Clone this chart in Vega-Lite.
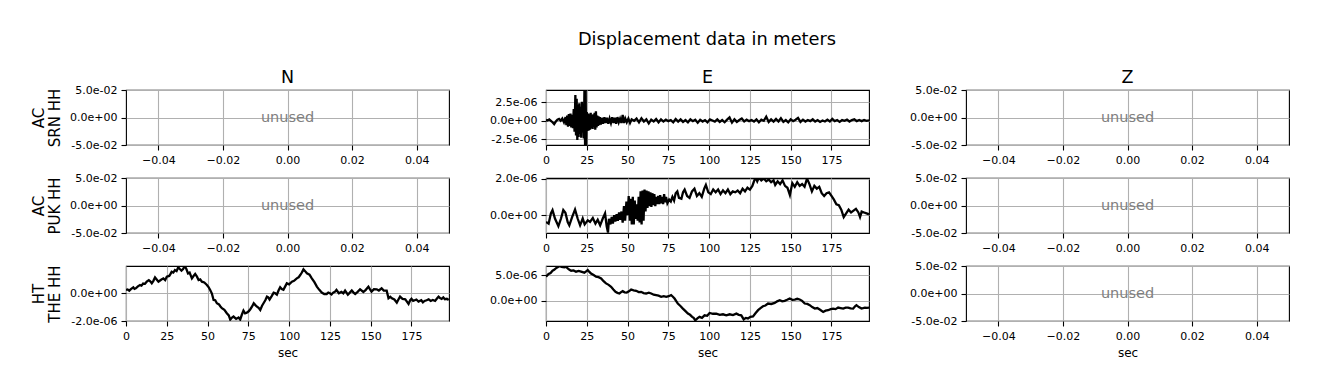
{
  "$schema": "https://vega.github.io/schema/vega-lite/v6.json",
  "autosize": {"type": "none"},
  "padding": {"left": 126, "top": 90, "right": 1192, "bottom": 299},
  "title": {"text": "Displacement data in meters", "anchor": "middle", "frame": "group", "dx": 581, "fontSize": 17.8, "fontWeight": "normal", "color": "black", "offset": 19},
  "config": {
    "font": "DejaVu Sans",
    "view": {"stroke": "black", "strokeWidth": 1.1},
    "axis": {"domain": false, "grid": true, "gridColor": "#b0b0b0", "gridWidth": 1.1, "gridOpacity": 1, "tickColor": "black", "tickSize": 5, "tickWidth": 1.1, "labelFontSize": 11, "labelColor": "black", "labelPadding": 4, "labelFlush": false, "labelOverlap": false, "titleFontWeight": "normal", "titleColor": "black"},
    "axisX": {"titleFontSize": 12, "titlePadding": 6},
    "axisY": {"titleFontSize": 15, "titlePadding": 7, "titleLineHeight": 16.5},
    "title": {"fontSize": 17.5, "fontWeight": "normal", "color": "black"}
  },
  "datasets": {
    "unused": [{"t": 0, "v": 0, "label": "unused"}],
    "srnE": [
      {"t":0,"v":0.14e-6},{"t":1,"v":0.05e-6},{"t":2,"v":0.2e-6},{"t":3,"v":0.0e-6},{"t":4,"v":-0.2e-6},{"t":5,"v":-0.45e-6},{"t":6,"v":-0.1e-6},{"t":7,"v":0.15e-6},{"t":8,"v":0.25e-6},{"t":9,"v":0.0e-6},{"t":10,"v":0.3e-6},{"t":11,"v":-0.2e-6},
      {"t":12,"v":0.5e-6},{"t":12.5,"v":-0.6e-6},{"t":13,"v":0.7e-6},{"t":13.5,"v":-0.8e-6},{"t":14,"v":0.9e-6},{"t":14.5,"v":-0.7e-6},{"t":15,"v":1.0e-6},{"t":15.5,"v":-0.9e-6},{"t":16,"v":0.8e-6},{"t":16.5,"v":-1.0e-6},{"t":17,"v":1.6e-6},{"t":17.5,"v":-1.5e-6},
      {"t":18,"v":3.5e-6},{"t":18.4,"v":-2.0e-6},{"t":18.8,"v":3.0e-6},{"t":19.2,"v":-2.6e-6},{"t":19.6,"v":2.2e-6},{"t":20,"v":-2.2e-6},{"t":20.4,"v":2.4e-6},{"t":20.8,"v":-1.8e-6},{"t":21.2,"v":1.9e-6},{"t":21.6,"v":-2.3e-6},{"t":22,"v":2.6e-6},{"t":22.4,"v":-1.6e-6},{"t":22.8,"v":1.8e-6},{"t":23.2,"v":-2.4e-6},
      {"t":23.6,"v":5.0e-6},{"t":24,"v":-4.5e-6},{"t":24.3,"v":5.0e-6},{"t":24.6,"v":-4.5e-6},
      {"t":25,"v":1.2e-6},{"t":25.4,"v":-1.4e-6},{"t":25.8,"v":1.0e-6},{"t":26.2,"v":-1.3e-6},{"t":26.6,"v":0.9e-6},{"t":27,"v":-1.2e-6},{"t":27.4,"v":1.1e-6},{"t":27.8,"v":-1.0e-6},{"t":28.2,"v":0.8e-6},{"t":28.6,"v":-1.1e-6},{"t":29,"v":0.9e-6},{"t":29.4,"v":-0.8e-6},{"t":29.8,"v":1.1e-6},{"t":30.2,"v":-1.2e-6},{"t":30.6,"v":1.3e-6},{"t":31,"v":-0.9e-6},{"t":31.4,"v":0.7e-6},{"t":31.8,"v":-0.7e-6},{"t":32.2,"v":0.6e-6},{"t":32.6,"v":-0.6e-6},{"t":33,"v":0.5e-6},{"t":33.6,"v":-0.5e-6},{"t":34.2,"v":0.4e-6},
      {"t":35,"v":-0.4e-6},{"t":35.8,"v":0.5e-6},{"t":36.6,"v":-0.3e-6},{"t":37.4,"v":0.4e-6},{"t":38.2,"v":-0.4e-6},{"t":39,"v":0.3e-6},{"t":39.8,"v":-0.3e-6},{"t":40.6,"v":0.5e-6},{"t":41.4,"v":-0.3e-6},{"t":42.2,"v":0.4e-6},{"t":43,"v":-0.4e-6},{"t":43.8,"v":0.5e-6},{"t":44.6,"v":-0.2e-6},{"t":45.4,"v":0.3e-6},{"t":46.2,"v":-0.3e-6},{"t":47,"v":0.8e-6},{"t":47.8,"v":-0.3e-6},{"t":48.6,"v":0.3e-6},{"t":49.5,"v":-0.2e-6},
      {"t":50.5,"v":0.3e-6},{"t":51.5,"v":-0.3e-6},{"t":52.5,"v":0.2e-6},{"t":54,"v":0.0e-6},{"t":55.5,"v":0.3e-6},{"t":57,"v":-0.2e-6},{"t":58.5,"v":0.35e-6},{"t":60,"v":-0.1e-6},{"t":61.5,"v":0.2e-6},{"t":63,"v":-0.35e-6},{"t":64.5,"v":0.15e-6},{"t":66,"v":-0.1e-6},{"t":67.5,"v":0.25e-6},{"t":69,"v":-0.2e-6},{"t":70.5,"v":0.2e-6},{"t":72,"v":-0.1e-6},{"t":73.5,"v":0.15e-6},{"t":75,"v":-0.05e-6},{"t":76.5,"v":0.1e-6},{"t":78,"v":-0.2e-6},{"t":79.5,"v":0.25e-6},
      {"t":81,"v":-0.1e-6},{"t":82.5,"v":0.2e-6},{"t":84,"v":-0.15e-6},{"t":85.5,"v":0.1e-6},{"t":87,"v":-0.2e-6},{"t":88.5,"v":0.2e-6},{"t":90,"v":-0.05e-6},{"t":91.5,"v":0.15e-6},{"t":93,"v":-0.25e-6},{"t":94.5,"v":0.15e-6},{"t":96,"v":-0.1e-6},{"t":97.5,"v":0.1e-6},{"t":99,"v":-0.2e-6},{"t":100.5,"v":0.2e-6},{"t":102,"v":0.05e-6},{"t":103.5,"v":-0.1e-6},{"t":105,"v":0.2e-6},{"t":106.5,"v":-0.15e-6},{"t":108,"v":0.1e-6},{"t":109.5,"v":-0.2e-6},
      {"t":111,"v":0.15e-6},{"t":112.5,"v":0.45e-6},{"t":114,"v":-0.25e-6},{"t":115.5,"v":0.2e-6},{"t":117,"v":-0.15e-6},{"t":118.5,"v":0.1e-6},{"t":120,"v":0.3e-6},{"t":121.5,"v":-0.1e-6},{"t":123,"v":0.15e-6},{"t":124.5,"v":-0.05e-6},{"t":126,"v":0.1e-6},{"t":127.5,"v":-0.1e-6},{"t":129,"v":0.2e-6},{"t":130.5,"v":-0.2e-6},{"t":132,"v":0.15e-6},{"t":133.5,"v":0.0e-6},{"t":135,"v":0.55e-6},{"t":136.5,"v":-0.15e-6},{"t":138,"v":0.2e-6},{"t":139.5,"v":-0.1e-6},
      {"t":141,"v":0.25e-6},{"t":142.5,"v":-0.1e-6},{"t":144,"v":0.35e-6},{"t":145.5,"v":-0.15e-6},{"t":147,"v":0.1e-6},{"t":148.5,"v":-0.2e-6},{"t":150,"v":0.2e-6},{"t":151.5,"v":-0.05e-6},{"t":153,"v":0.15e-6},{"t":154.5,"v":0.4e-6},{"t":156,"v":-0.15e-6},{"t":157.5,"v":0.15e-6},{"t":159,"v":-0.1e-6},{"t":160.5,"v":0.1e-6},{"t":162,"v":-0.05e-6},{"t":163.5,"v":0.2e-6},{"t":165,"v":-0.1e-6},{"t":166.5,"v":0.1e-6},{"t":168,"v":-0.15e-6},{"t":169.5,"v":0.05e-6},
      {"t":171,"v":-0.1e-6},{"t":172.5,"v":0.15e-6},{"t":174,"v":-0.1e-6},{"t":175.5,"v":0.25e-6},{"t":177,"v":-0.05e-6},{"t":178.5,"v":0.1e-6},{"t":180,"v":-0.15e-6},{"t":181.5,"v":0.1e-6},{"t":183,"v":0.0e-6},{"t":184.5,"v":0.15e-6},{"t":186,"v":-0.1e-6},{"t":187.5,"v":0.1e-6},{"t":189,"v":0.2e-6},{"t":190.5,"v":-0.05e-6},{"t":192,"v":0.1e-6},{"t":193.5,"v":-0.05e-6},{"t":195,"v":0.1e-6},{"t":196.5,"v":0.0e-6},{"t":198,"v":0.05e-6}
    ],
    "pukE": [
      {"t":0,"v":-0.37e-6},{"t":1.6,"v":-0.46e-6},{"t":3,"v":0.1e-6},{"t":4,"v":0.28e-6},{"t":5.5,"v":-0.18e-6},{"t":7.6,"v":-0.6e-6},{"t":9.2,"v":-0.18e-6},{"t":10.6,"v":0.28e-6},{"t":11.9,"v":0.13e-6},{"t":13.3,"v":-0.37e-6},{"t":14.3,"v":-0.55e-6},{"t":16,"v":-0.1e-6},{"t":17.8,"v":0.31e-6},{"t":19.4,"v":-0.18e-6},{"t":20.9,"v":-0.55e-6},{"t":22.5,"v":-0.18e-6},{"t":23.7,"v":-0.5e-6},{"t":25.6,"v":-0.28e-6},{"t":27,"v":-0.37e-6},{"t":28.7,"v":-0.15e-6},{"t":30.3,"v":-0.46e-6},{"t":31.7,"v":-0.25e-6},{"t":33.2,"v":-0.55e-6},{"t":34.8,"v":-0.18e-6},{"t":36.2,"v":0.1e-6},{"t":37.2,"v":-0.6e-6},{"t":38,"v":-0.95e-6},{"t":38.6,"v":-0.2e-6},{"t":39.5,"v":-0.5e-6},
      {"t":40.3,"v":-0.1e-6},{"t":41,"v":-0.45e-6},{"t":41.8,"v":0.0e-6},{"t":42.5,"v":-0.35e-6},{"t":43.3,"v":0.05e-6},{"t":44,"v":-0.3e-6},{"t":44.8,"v":0.15e-6},{"t":45.5,"v":-0.25e-6},{"t":46.3,"v":0.2e-6},{"t":47,"v":-0.4e-6},{"t":47.8,"v":0.5e-6},{"t":48.5,"v":-0.3e-6},{"t":49.3,"v":0.75e-6},{"t":50,"v":0.0e-6},{"t":50.7,"v":1.05e-6},{"t":51.4,"v":-0.3e-6},{"t":52,"v":0.9e-6},{"t":52.6,"v":-0.5e-6},{"t":53.2,"v":1.0e-6},{"t":53.8,"v":-0.5e-6},{"t":54.4,"v":0.8e-6},{"t":55,"v":-0.2e-6},{"t":55.6,"v":0.6e-6},{"t":56.2,"v":-0.3e-6},{"t":56.8,"v":1.0e-6},{"t":57.4,"v":-0.4e-6},{"t":58,"v":1.3e-6},{"t":58.6,"v":-0.5e-6},{"t":59.2,"v":1.35e-6},{"t":59.8,"v":-0.3e-6},
      {"t":60.4,"v":1.4e-6},{"t":61,"v":0.2e-6},{"t":61.6,"v":1.35e-6},{"t":62.2,"v":0.4e-6},{"t":62.8,"v":1.3e-6},{"t":63.4,"v":0.5e-6},{"t":64,"v":1.25e-6},{"t":64.6,"v":0.45e-6},{"t":65.2,"v":1.2e-6},{"t":65.8,"v":0.55e-6},{"t":66.4,"v":1.15e-6},{"t":67,"v":0.5e-6},{"t":67.6,"v":1.0e-6},{"t":68.2,"v":0.6e-6},{"t":68.8,"v":1.05e-6},{"t":69.4,"v":0.6e-6},{"t":70,"v":1.1e-6},{"t":70.6,"v":0.65e-6},{"t":71.2,"v":1.0e-6},{"t":71.8,"v":0.6e-6},{"t":72.4,"v":1.15e-6},{"t":73,"v":0.7e-6},{"t":73.6,"v":1.0e-6},{"t":74.4,"v":0.65e-6},
      {"t":75.5,"v":0.85e-6},{"t":76.5,"v":0.75e-6},{"t":77.5,"v":1.0e-6},{"t":78.5,"v":0.8e-6},{"t":79.5,"v":1.2e-6},{"t":80.5,"v":1.3e-6},{"t":81.5,"v":0.95e-6},{"t":83,"v":0.9e-6},{"t":84,"v":1.25e-6},{"t":85,"v":1.4e-6},{"t":86.5,"v":1.05e-6},{"t":88,"v":0.95e-6},{"t":89.5,"v":1.3e-6},{"t":91,"v":1.45e-6},{"t":92.5,"v":1.05e-6},{"t":94,"v":1.2e-6},{"t":95.5,"v":1.0e-6},{"t":97,"v":1.45e-6},{"t":98,"v":1.65e-6},{"t":99.5,"v":1.25e-6},
      {"t":101,"v":1.15e-6},{"t":102.5,"v":1.4e-6},{"t":104,"v":1.25e-6},{"t":105.5,"v":1.4e-6},{"t":107,"v":1.15e-6},{"t":108.5,"v":1.35e-6},{"t":110,"v":1.2e-6},{"t":111.5,"v":1.4e-6},{"t":113,"v":1.15e-6},{"t":114.5,"v":1.3e-6},{"t":116,"v":1.25e-6},{"t":117.5,"v":1.35e-6},{"t":119,"v":1.2e-6},{"t":120.5,"v":1.45e-6},{"t":122,"v":1.3e-6},{"t":123.5,"v":1.5e-6},{"t":125,"v":1.4e-6},{"t":126.5,"v":1.6e-6},{"t":127.5,"v":1.85e-6},{"t":128.5,"v":2.05e-6},{"t":129.5,"v":1.85e-6},
      {"t":130.5,"v":2.05e-6},{"t":132,"v":1.9e-6},{"t":133.5,"v":2.0e-6},{"t":135,"v":1.85e-6},{"t":136.5,"v":1.95e-6},{"t":138,"v":1.8e-6},{"t":139.5,"v":1.9e-6},{"t":140.5,"v":1.65e-6},{"t":142,"v":1.85e-6},{"t":143.5,"v":1.7e-6},{"t":145,"v":1.9e-6},{"t":146.5,"v":1.6e-6},{"t":148,"v":1.5e-6},{"t":149.5,"v":1.1e-6},{"t":151,"v":1.75e-6},{"t":152.5,"v":1.55e-6},{"t":154,"v":1.8e-6},{"t":155.5,"v":1.6e-6},{"t":157,"v":1.7e-6},{"t":158.5,"v":1.55e-6},{"t":160,"v":2.0e-6},
      {"t":161.5,"v":1.7e-6},{"t":163,"v":1.3e-6},{"t":164.5,"v":1.6e-6},{"t":166,"v":1.45e-6},{"t":167.5,"v":1.55e-6},{"t":169,"v":1.2e-6},{"t":170.5,"v":1.05e-6},{"t":172,"v":1.2e-6},{"t":173.5,"v":1.25e-6},{"t":175,"v":1.05e-6},{"t":176.5,"v":0.85e-6},{"t":178,"v":0.6e-6},{"t":179.5,"v":0.55e-6},{"t":181,"v":0.3e-6},{"t":182.5,"v":-0.1e-6},{"t":184,"v":0.1e-6},{"t":185.5,"v":0.3e-6},{"t":187,"v":0.15e-6},{"t":188.5,"v":0.25e-6},{"t":190,"v":0.35e-6},{"t":191.5,"v":0.15e-6},{"t":192.5,"v":-0.1e-6},{"t":193.5,"v":0.2e-6},{"t":195,"v":0.15e-6},{"t":196.5,"v":0.1e-6},{"t":198,"v":0.05e-6}
    ],
    "theN": [
      {"t":0,"v":0.24e-6},{"t":1,"v":0.28e-6},{"t":2,"v":0.19e-6},{"t":3,"v":0.3e-6},{"t":4.5,"v":0.43e-6},{"t":5.2,"v":0.32e-6},{"t":6,"v":0.36e-6},{"t":7.3,"v":0.5e-6},{"t":8.6,"v":0.6e-6},{"t":9.5,"v":0.55e-6},{"t":10.5,"v":0.7e-6},{"t":11.6,"v":0.68e-6},{"t":12.7,"v":0.84e-6},{"t":14,"v":0.95e-6},{"t":15,"v":0.85e-6},{"t":15.8,"v":0.72e-6},{"t":16.8,"v":0.9e-6},{"t":17.8,"v":1.15e-6},{"t":18.8,"v":1.0e-6},{"t":19.9,"v":0.84e-6},{"t":21.5,"v":0.98e-6},{"t":22.9,"v":1.08e-6},{"t":24,"v":0.95e-6},{"t":25,"v":1.2e-6},{"t":26.5,"v":1.25e-6},{"t":27.3,"v":1.4e-6},{"t":28,"v":1.56e-6},{"t":29,"v":1.5e-6},{"t":30,"v":1.68e-6},{"t":31,"v":1.6e-6},{"t":32,"v":1.88e-6},{"t":33,"v":1.75e-6},{"t":34,"v":1.64e-6},{"t":35,"v":1.75e-6},{"t":36,"v":1.97e-6},{"t":37,"v":1.75e-6},{"t":38,"v":1.44e-6},{"t":39,"v":1.5e-6},
      {"t":40.4,"v":1.08e-6},{"t":41.4,"v":1.25e-6},{"t":42.4,"v":1.4e-6},{"t":43.5,"v":1.2e-6},{"t":44.5,"v":0.96e-6},{"t":45.5,"v":1.0e-6},{"t":46.5,"v":0.84e-6},{"t":48,"v":0.78e-6},{"t":49.6,"v":0.6e-6},{"t":50.6,"v":0.45e-6},{"t":51.6,"v":0.24e-6},{"t":52.6,"v":0.0e-6},{"t":53.7,"v":-0.48e-6},{"t":54.7,"v":-0.5e-6},{"t":55.7,"v":-0.72e-6},{"t":57,"v":-0.8e-6},{"t":57.9,"v":-0.95e-6},{"t":58.8,"v":-1.08e-6},{"t":60.3,"v":-1.2e-6},{"t":61.8,"v":-1.44e-6},{"t":63,"v":-1.6e-6},{"t":63.9,"v":-1.9e-6},{"t":65,"v":-1.75e-6},{"t":65.9,"v":-1.68e-6},{"t":67.5,"v":-1.85e-6},{"t":69,"v":-1.75e-6},{"t":70,"v":-1.9e-6},{"t":71,"v":-1.55e-6},{"t":72,"v":-1.25e-6},{"t":73,"v":-1.45e-6},{"t":74,"v":-1.4e-6},{"t":75.2,"v":-1.3e-6},{"t":76.2,"v":-1.15e-6},{"t":77.3,"v":-0.95e-6},{"t":78.3,"v":-0.72e-6},{"t":79.3,"v":-0.85e-6},
      {"t":80.3,"v":-0.96e-6},{"t":81.3,"v":-1.05e-6},{"t":82.3,"v":-1.2e-6},{"t":83.4,"v":-0.9e-6},{"t":84.4,"v":-0.7e-6},{"t":85.4,"v":-0.5e-6},{"t":86.4,"v":-0.24e-6},{"t":87.2,"v":-0.3e-6},{"t":88,"v":-0.45e-6},{"t":89.3,"v":-0.2e-6},{"t":90.5,"v":0.05e-6},{"t":91.5,"v":0.0e-6},{"t":92.5,"v":-0.1e-6},{"t":93.5,"v":0.2e-6},{"t":94.5,"v":0.43e-6},{"t":95.5,"v":0.3e-6},{"t":96.5,"v":0.25e-6},{"t":97.6,"v":0.5e-6},{"t":98.6,"v":0.72e-6},{"t":100,"v":0.65e-6},{"t":101.7,"v":0.84e-6},{"t":103,"v":0.9e-6},{"t":104.7,"v":1.08e-6},{"t":105.8,"v":1.15e-6},{"t":106.8,"v":1.32e-6},{"t":107.8,"v":1.5e-6},{"t":108.8,"v":1.73e-6},{"t":109.8,"v":1.6e-6},{"t":110.9,"v":1.44e-6},{"t":112.5,"v":1.35e-6},{"t":113.9,"v":1.08e-6},{"t":115.5,"v":0.8e-6},{"t":117,"v":0.48e-6},{"t":118.5,"v":0.25e-6},
      {"t":120,"v":0.05e-6},{"t":121.5,"v":-0.05e-6},{"t":123,"v":-0.05e-6},{"t":124,"v":0.05e-6},{"t":125,"v":0.0e-6},{"t":126,"v":-0.08e-6},{"t":127,"v":0.05e-6},{"t":128,"v":0.1e-6},{"t":129,"v":0.24e-6},{"t":130.5,"v":0.0e-6},{"t":132,"v":0.1e-6},{"t":133.2,"v":0.0e-6},{"t":134.3,"v":0.2e-6},{"t":136,"v":-0.1e-6},{"t":137.2,"v":0.05e-6},{"t":138.4,"v":0.2e-6},{"t":139.5,"v":0.05e-6},{"t":140.5,"v":-0.05e-6},{"t":142,"v":0.1e-6},{"t":143.5,"v":0.29e-6},{"t":145.5,"v":0.1e-6},{"t":147,"v":0.25e-6},{"t":148.6,"v":0.48e-6},{"t":149.5,"v":0.3e-6},{"t":150.5,"v":0.12e-6},{"t":152,"v":0.3e-6},{"t":153.7,"v":0.29e-6},{"t":155,"v":0.2e-6},{"t":156.7,"v":0.36e-6},{"t":158,"v":0.2e-6},{"t":159.8,"v":0.19e-6},
      {"t":160.9,"v":-0.36e-6},{"t":162,"v":-0.25e-6},{"t":163,"v":-0.36e-6},{"t":164.5,"v":-0.45e-6},{"t":166,"v":-0.67e-6},{"t":167,"v":-0.45e-6},{"t":168,"v":-0.24e-6},{"t":169.5,"v":-0.4e-6},{"t":171.2,"v":-0.43e-6},{"t":172.2,"v":-0.6e-6},{"t":173.2,"v":-0.77e-6},{"t":174.2,"v":-0.5e-6},{"t":175,"v":-0.4e-6},{"t":176,"v":-0.55e-6},{"t":177,"v":-0.5e-6},{"t":178,"v":-0.45e-6},{"t":179.3,"v":-0.6e-6},{"t":181,"v":-0.5e-6},{"t":182,"v":-0.65e-6},{"t":183,"v":-0.55e-6},{"t":184.3,"v":-0.5e-6},{"t":185.5,"v":-0.43e-6},{"t":186.8,"v":-0.55e-6},{"t":188,"v":-0.48e-6},{"t":189.5,"v":-0.55e-6},{"t":190.5,"v":-0.4e-6},{"t":191.6,"v":-0.24e-6},{"t":192.5,"v":-0.35e-6},{"t":193.5,"v":-0.4e-6},{"t":194.5,"v":-0.3e-6},{"t":195.5,"v":-0.43e-6},{"t":196.7,"v":-0.4e-6},{"t":197.8,"v":-0.48e-6}
    ],
    "theE": [
      {"t":0,"v":4.68e-6},{"t":1.6,"v":5.2e-6},{"t":2.8,"v":5.4e-6},{"t":4,"v":5.84e-6},{"t":5,"v":6.0e-6},{"t":6,"v":6.3e-6},{"t":7.1,"v":6.5e-6},{"t":8.2,"v":6.75e-6},{"t":9.5,"v":6.6e-6},{"t":11.3,"v":6.5e-6},{"t":12.3,"v":6.6e-6},{"t":13.3,"v":6.3e-6},{"t":14.4,"v":6.0e-6},{"t":15.4,"v":5.84e-6},{"t":16.9,"v":5.9e-6},{"t":18.4,"v":5.65e-6},{"t":20,"v":5.8e-6},{"t":21.5,"v":5.65e-6},{"t":23.5,"v":5.45e-6},{"t":24.6,"v":5.7e-6},{"t":25.6,"v":5.97e-6},{"t":26.6,"v":5.6e-6},{"t":27.6,"v":5.3e-6},{"t":29.2,"v":5.0e-6},{"t":30.7,"v":4.68e-6},{"t":32.2,"v":4.6e-6},{"t":33.8,"v":4.35e-6},{"t":35.3,"v":3.8e-6},{"t":36.8,"v":3.38e-6},{"t":38.4,"v":3.1e-6},{"t":39.9,"v":2.73e-6},{"t":41.3,"v":2.2e-6},{"t":42.6,"v":1.75e-6},{"t":43.8,"v":1.55e-6},{"t":45,"v":1.43e-6},{"t":46,"v":1.7e-6},{"t":47,"v":1.88e-6},{"t":48.2,"v":1.65e-6},{"t":49.5,"v":1.6e-6},{"t":50.8,"v":1.85e-6},
      {"t":52.2,"v":2.2e-6},{"t":53.7,"v":2.05e-6},{"t":55.3,"v":1.95e-6},{"t":56.8,"v":1.7e-6},{"t":58.3,"v":1.75e-6},{"t":59.8,"v":1.5e-6},{"t":61.4,"v":1.43e-6},{"t":63,"v":1.6e-6},{"t":64.5,"v":1.43e-6},{"t":66,"v":1.2e-6},{"t":67.5,"v":1.1e-6},{"t":69,"v":1.0e-6},{"t":70.6,"v":0.78e-6},{"t":72.2,"v":0.9e-6},{"t":73.7,"v":0.78e-6},{"t":75.2,"v":0.9e-6},{"t":76.7,"v":1.1e-6},{"t":77.8,"v":0.8e-6},{"t":78.8,"v":0.45e-6},{"t":80.8,"v":-0.52e-6},{"t":82.4,"v":-1.0e-6},{"t":83.9,"v":-1.5e-6},{"t":85.5,"v":-2.0e-6},{"t":87,"v":-2.47e-6},{"t":88.3,"v":-2.7e-6},{"t":89.6,"v":-3.1e-6},{"t":90.5,"v":-3.3e-6},{"t":91.5,"v":-3.77e-6},{"t":92.8,"v":-3.4e-6},{"t":94.1,"v":-3.1e-6},{"t":95.6,"v":-3.3e-6},{"t":97.2,"v":-2.8e-6},{"t":98.8,"v":-2.9e-6},{"t":100.3,"v":-2.34e-6},
      {"t":102.3,"v":-2.5e-6},{"t":104.4,"v":-2.47e-6},{"t":106.5,"v":-2.7e-6},{"t":108.5,"v":-2.6e-6},{"t":110.5,"v":-2.8e-6},{"t":112.6,"v":-2.6e-6},{"t":114.6,"v":-2.75e-6},{"t":116.7,"v":-2.47e-6},{"t":118.2,"v":-2.7e-6},{"t":119.7,"v":-2.8e-6},{"t":121.2,"v":-3.6e-6},{"t":122.5,"v":-3.3e-6},{"t":123.8,"v":-3.4e-6},{"t":125.3,"v":-3.1e-6},{"t":126.9,"v":-3.0e-6},{"t":128.4,"v":-2.4e-6},{"t":130,"v":-1.8e-6},{"t":131.5,"v":-1.4e-6},{"t":133,"v":-1.04e-6},{"t":134.5,"v":-0.9e-6},{"t":136.1,"v":-0.52e-6},{"t":138.1,"v":-0.6e-6},{"t":140.2,"v":-0.4e-6},{"t":141.7,"v":-0.1e-6},{"t":143.3,"v":0.13e-6},{"t":144.8,"v":-0.1e-6},{"t":146.3,"v":0.0e-6},{"t":147.8,"v":0.2e-6},{"t":149.4,"v":0.45e-6},{"t":151,"v":0.2e-6},{"t":152.5,"v":0.26e-6},{"t":154,"v":0.4e-6},{"t":155.5,"v":0.26e-6},{"t":157,"v":0.0e-6},
      {"t":158.6,"v":-0.52e-6},{"t":160.2,"v":-0.6e-6},{"t":161.7,"v":-0.84e-6},{"t":163.2,"v":-1.2e-6},{"t":164.8,"v":-1.5e-6},{"t":166.3,"v":-1.4e-6},{"t":167.8,"v":-1.69e-6},{"t":169.9,"v":-2.14e-6},{"t":171.4,"v":-1.9e-6},{"t":172.9,"v":-1.82e-6},{"t":174.5,"v":-1.6e-6},{"t":176,"v":-1.5e-6},{"t":177.5,"v":-1.6e-6},{"t":179.1,"v":-1.3e-6},{"t":180.6,"v":-1.4e-6},{"t":182.2,"v":-1.5e-6},{"t":183.7,"v":-1.3e-6},{"t":185.2,"v":-1.3e-6},{"t":186.7,"v":-1.45e-6},{"t":188.3,"v":-1.5e-6},{"t":189.3,"v":-1.1e-6},{"t":190.3,"v":-0.84e-6},{"t":191.8,"v":-1.2e-6},{"t":193.4,"v":-1.5e-6},{"t":195.5,"v":-1.3e-6},{"t":196.8,"v":-1.35e-6},{"t":198,"v":-1.3e-6}
    ]
  },
  "columns": 3,
  "bounds": "flush",
  "spacing": {"row": 33, "column": 97},
  "concat": [
    {
      "width": 323, "height": 55, "title": {"text": "N", "offset": -2},
      "data": {"name": "unused"},
      "mark": {"type": "text", "color": "#808080", "fontSize": 14.5, "align": "center", "baseline": "middle"},
      "encoding": {
        "x": {"field": "t", "type": "quantitative", "scale": {"domain": [-0.05, 0.05], "nice": false}, "axis": {"values": [-0.04, -0.02, 0, 0.02, 0.04], "format": ".2f", "title": null}},
        "y": {"field": "v", "type": "quantitative", "scale": {"domain": [-0.05, 0.05], "nice": false}, "axis": {"values": [-0.05, 0, 0.05], "title": ["AC", "SRN HH"], "titleFontSize": 15, "labelExpr": "replace(replace(replace(format(datum.value, '.1e'), '−', '-'), 'e-', 'e-0'), 'e+', 'e+0')"}},
        "text": {"field": "label"}
      }
    },
    {
      "width": 323, "height": 55, "title": {"text": "E", "offset": 3.6},
      "data": {"name": "srnE"},
      "mark": {"type": "line", "color": "black", "strokeWidth": 2.3, "clip": true},
      "encoding": {
        "x": {"field": "t", "type": "quantitative", "scale": {"domain": [0, 198], "nice": false}, "axis": {"values": [0, 25, 50, 75, 100, 125, 150, 175], "format": "d", "title": null}},
        "y": {"field": "v", "type": "quantitative", "scale": {"domain": [-3.3e-6, 4.2e-6], "nice": false, "zero": false}, "axis": {"values": [-2.5e-6, 0, 2.5e-6], "title": null, "labelExpr": "replace(replace(replace(format(datum.value, '.1e'), '−', '-'), 'e-', 'e-0'), 'e+', 'e+0')"}}
      }
    },
    {
      "width": 323, "height": 55, "title": {"text": "Z", "offset": -2},
      "data": {"name": "unused"},
      "mark": {"type": "text", "color": "#808080", "fontSize": 14.5, "align": "center", "baseline": "middle"},
      "encoding": {
        "x": {"field": "t", "type": "quantitative", "scale": {"domain": [-0.05, 0.05], "nice": false}, "axis": {"values": [-0.04, -0.02, 0, 0.02, 0.04], "format": ".2f", "title": null}},
        "y": {"field": "v", "type": "quantitative", "scale": {"domain": [-0.05, 0.05], "nice": false}, "axis": {"values": [-0.05, 0, 0.05], "title": null, "labelExpr": "replace(replace(replace(format(datum.value, '.1e'), '−', '-'), 'e-', 'e-0'), 'e+', 'e+0')"}},
        "text": {"field": "label"}
      }
    },
    {
      "width": 323, "height": 55,
      "data": {"name": "unused"},
      "mark": {"type": "text", "color": "#808080", "fontSize": 14.5, "align": "center", "baseline": "middle"},
      "encoding": {
        "x": {"field": "t", "type": "quantitative", "scale": {"domain": [-0.05, 0.05], "nice": false}, "axis": {"values": [-0.04, -0.02, 0, 0.02, 0.04], "format": ".2f", "title": null}},
        "y": {"field": "v", "type": "quantitative", "scale": {"domain": [-0.05, 0.05], "nice": false}, "axis": {"values": [-0.05, 0, 0.05], "title": ["AC", "PUK HH"], "titleFontSize": 15, "labelExpr": "replace(replace(replace(format(datum.value, '.1e'), '−', '-'), 'e-', 'e-0'), 'e+', 'e+0')"}},
        "text": {"field": "label"}
      }
    },
    {
      "width": 323, "height": 55,
      "data": {"name": "pukE"},
      "mark": {"type": "line", "color": "black", "strokeWidth": 2.3, "clip": true},
      "encoding": {
        "x": {"field": "t", "type": "quantitative", "scale": {"domain": [0, 198], "nice": false}, "axis": {"values": [0, 25, 50, 75, 100, 125, 150, 175], "format": "d", "title": null}},
        "y": {"field": "v", "type": "quantitative", "scale": {"domain": [-0.97e-6, 2.03e-6], "nice": false, "zero": false}, "axis": {"values": [0, 2.0e-6], "title": null, "labelExpr": "replace(replace(replace(format(datum.value, '.1e'), '−', '-'), 'e-', 'e-0'), 'e+', 'e+0')"}}
      }
    },
    {
      "width": 323, "height": 55,
      "data": {"name": "unused"},
      "mark": {"type": "text", "color": "#808080", "fontSize": 14.5, "align": "center", "baseline": "middle"},
      "encoding": {
        "x": {"field": "t", "type": "quantitative", "scale": {"domain": [-0.05, 0.05], "nice": false}, "axis": {"values": [-0.04, -0.02, 0, 0.02, 0.04], "format": ".2f", "title": null}},
        "y": {"field": "v", "type": "quantitative", "scale": {"domain": [-0.05, 0.05], "nice": false}, "axis": {"values": [-0.05, 0, 0.05], "title": null, "labelExpr": "replace(replace(replace(format(datum.value, '.1e'), '−', '-'), 'e-', 'e-0'), 'e+', 'e+0')"}},
        "text": {"field": "label"}
      }
    },
    {
      "width": 323, "height": 55,
      "data": {"name": "theN"},
      "mark": {"type": "line", "color": "black", "strokeWidth": 2.3, "clip": true},
      "encoding": {
        "x": {"field": "t", "type": "quantitative", "scale": {"domain": [0, 198], "nice": false}, "axis": {"values": [0, 25, 50, 75, 100, 125, 150, 175], "format": "d", "title": "sec"}},
        "y": {"field": "v", "type": "quantitative", "scale": {"domain": [-2.0e-6, 1.97e-6], "nice": false, "zero": false}, "axis": {"values": [-2.0e-6, 0], "title": ["HT", "THE HH"], "titleFontSize": 15, "labelExpr": "replace(replace(replace(format(datum.value, '.1e'), '−', '-'), 'e-', 'e-0'), 'e+', 'e+0')"}}
      }
    },
    {
      "width": 323, "height": 55,
      "data": {"name": "theE"},
      "mark": {"type": "line", "color": "black", "strokeWidth": 2.3, "clip": true},
      "encoding": {
        "x": {"field": "t", "type": "quantitative", "scale": {"domain": [0, 198], "nice": false}, "axis": {"values": [0, 25, 50, 75, 100, 125, 150, 175], "format": "d", "title": "sec"}},
        "y": {"field": "v", "type": "quantitative", "scale": {"domain": [-3.9e-6, 6.75e-6], "nice": false, "zero": false}, "axis": {"values": [0, 5.0e-6], "title": null, "labelExpr": "replace(replace(replace(format(datum.value, '.1e'), '−', '-'), 'e-', 'e-0'), 'e+', 'e+0')"}}
      }
    },
    {
      "width": 323, "height": 55,
      "data": {"name": "unused"},
      "mark": {"type": "text", "color": "#808080", "fontSize": 14.5, "align": "center", "baseline": "middle"},
      "encoding": {
        "x": {"field": "t", "type": "quantitative", "scale": {"domain": [-0.05, 0.05], "nice": false}, "axis": {"values": [-0.04, -0.02, 0, 0.02, 0.04], "format": ".2f", "title": "sec"}},
        "y": {"field": "v", "type": "quantitative", "scale": {"domain": [-0.05, 0.05], "nice": false}, "axis": {"values": [-0.05, 0, 0.05], "title": null, "labelExpr": "replace(replace(replace(format(datum.value, '.1e'), '−', '-'), 'e-', 'e-0'), 'e+', 'e+0')"}},
        "text": {"field": "label"}
      }
    }
  ]
}
